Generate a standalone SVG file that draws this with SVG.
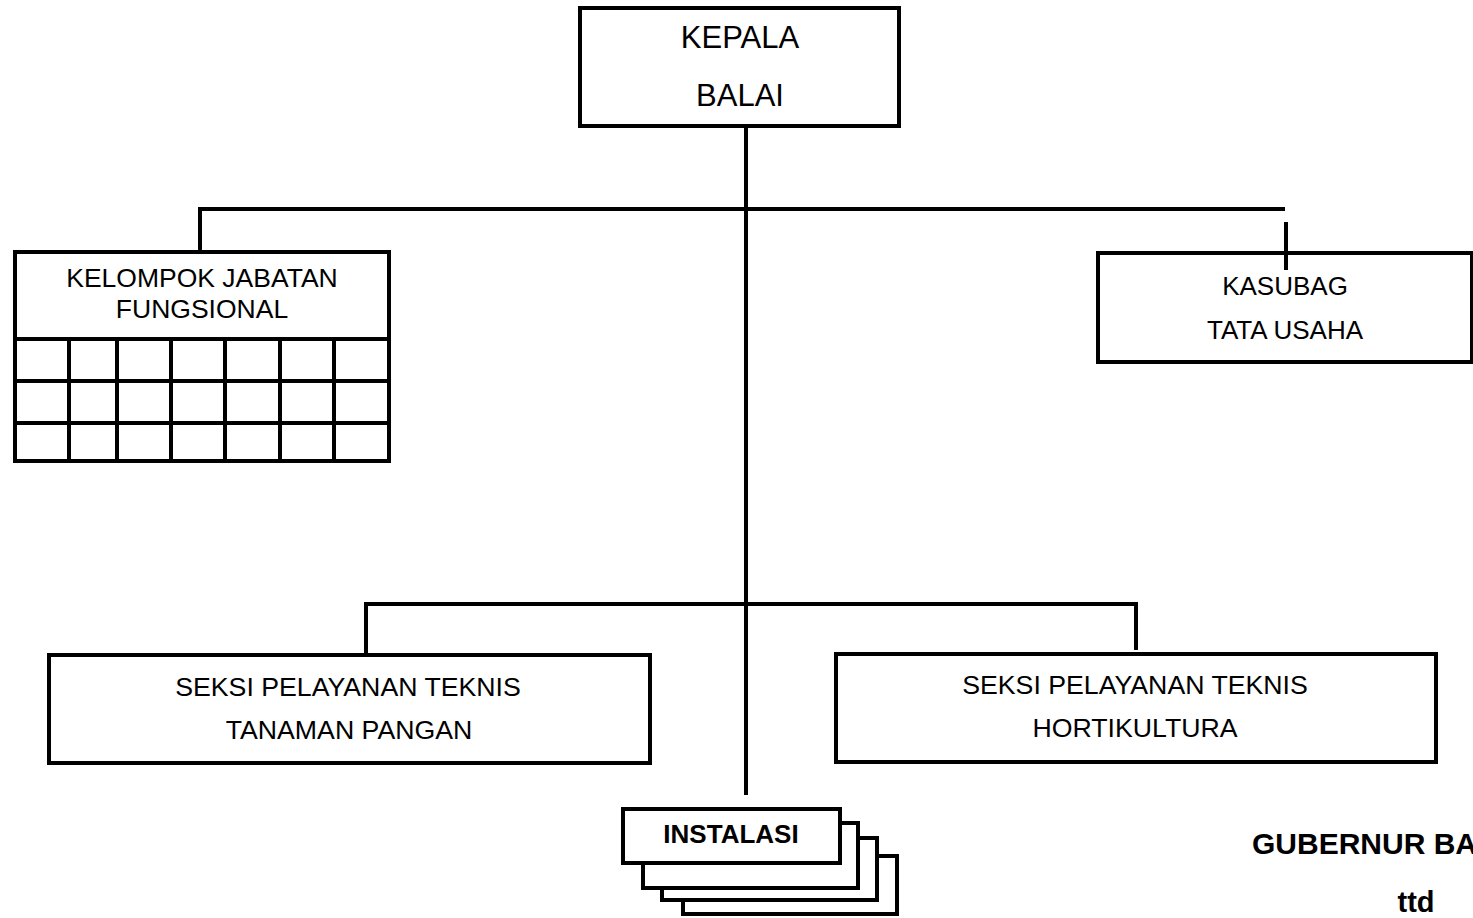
<svg xmlns="http://www.w3.org/2000/svg" width="1473" height="918" viewBox="0 0 1473 918">
  <style>
    .box { fill: #fff; stroke: #000; stroke-width: 4; }
    .ln { fill: none; stroke: #000; stroke-width: 4; }
    .t { font-family: "Liberation Sans", Arial, sans-serif; fill: #000; text-anchor: middle; }
    .b { font-weight: bold; }
    .l { text-anchor: start; }
  </style>
  <rect width="1473" height="918" fill="#fff"/>

  <!-- connectors -->
  <g id="connectors">
    <line class="ln" x1="746" y1="127" x2="746" y2="795"/>
    <polyline class="ln" points="200,252 200,209 1285,209"/>
    <line class="ln" x1="1286" y1="222" x2="1286" y2="270"/>
    <polyline class="ln" points="366,655 366,604 1136,604 1136,650"/>
  </g>

  <!-- head -->
  <g id="kepala-balai">
    <rect class="box" x="580" y="8" width="319" height="118"/>
    <text class="t" x="740" y="48" font-size="31">KEPALA</text>
    <text class="t" x="740" y="106" font-size="31">BALAI</text>
  </g>

  <!-- functional group with grid -->
  <g id="kelompok-jabatan">
    <rect class="box" x="15" y="252" width="374" height="87"/>
    <text class="t" x="202" y="287" font-size="26.5">KELOMPOK JABATAN</text>
    <text class="t" x="202" y="318" font-size="26.5">FUNGSIONAL</text>
    <g class="ln">
      <line x1="15" y1="381" x2="389" y2="381"/>
      <line x1="15" y1="423" x2="389" y2="423"/>
      <line x1="15" y1="461" x2="389" y2="461"/>
      <line x1="15" y1="339" x2="15" y2="463"/>
      <line x1="69" y1="339" x2="69" y2="463"/>
      <line x1="117" y1="339" x2="117" y2="463"/>
      <line x1="171" y1="339" x2="171" y2="463"/>
      <line x1="225" y1="339" x2="225" y2="463"/>
      <line x1="280" y1="339" x2="280" y2="463"/>
      <line x1="334" y1="339" x2="334" y2="463"/>
      <line x1="389" y1="339" x2="389" y2="463"/>
    </g>
  </g>

  <g id="kasubag">
    <rect class="box" x="1098" y="253" width="374" height="109"/>
    <line class="ln" x1="1286" y1="251" x2="1286" y2="270"/>
    <text class="t" x="1285" y="295" font-size="26">KASUBAG</text>
    <text class="t" x="1285" y="339" font-size="26">TATA USAHA</text>
  </g>

  <g id="seksi-tanaman-pangan">
    <rect class="box" x="49" y="655" width="601" height="108"/>
    <text class="t" x="348" y="696" font-size="26.7">SEKSI PELAYANAN TEKNIS</text>
    <text class="t" x="349" y="739" font-size="26.7">TANAMAN PANGAN</text>
  </g>

  <g id="seksi-hortikultura">
    <rect class="box" x="836" y="654" width="600" height="108"/>
    <text class="t" x="1135" y="694" font-size="26.7">SEKSI PELAYANAN TEKNIS</text>
    <text class="t" x="1135" y="737" font-size="26.7">HORTIKULTURA</text>
  </g>

  <!-- stacked installation cards -->
  <g id="instalasi">
    <polyline class="ln" points="683,900 683,914 897,914 897,856 877,856"/>
    <polyline class="ln" points="662,888 662,900 877,900 877,838 858,838"/>
    <polyline class="ln" points="643,863 643,888 858,888 858,823 840,823"/>
    <rect class="box" x="623" y="809" width="217" height="54"/>
    <text class="t b" x="731" y="843" font-size="26">INSTALASI</text>
  </g>

  <g id="pengesahan">
    <text class="t b l" x="1252" y="854" font-size="30">GUBERNUR BA</text>
    <text class="t b" x="1416" y="912" font-size="29">ttd</text>
  </g>
</svg>
